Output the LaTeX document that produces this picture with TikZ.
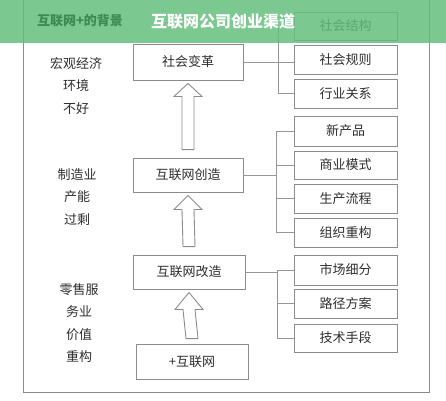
\documentclass[tikz,border=0pt]{standalone}
\usepackage{fontspec}
\newfontfamily\cjk{Noto Sans CJK SC}
\usetikzlibrary{calc}
\definecolor{boxgray}{RGB}{140,140,140}
\definecolor{linegray}{RGB}{150,150,150}
\definecolor{txt}{RGB}{45,45,45}
\definecolor{banner}{RGB}{100,190,125}
\definecolor{hdrgreen}{RGB}{62,138,84}
\begin{document}
\begin{tikzpicture}[x=1pt,y=-1pt,
  box/.style={draw=boxgray, line width=0.9pt, minimum width=110pt, minimum height=35pt, inner sep=0pt, font=\cjk\fontsize{13}{15}\selectfont, text=txt},
  rbox/.style={box, minimum width=103pt, minimum height=29pt},
  side/.style={font=\cjk\fontsize{13}{22.5}\selectfont, text=txt, align=center, inner sep=0pt},
  conn/.style={draw=linegray, line width=1pt},
  hollow/.style={draw=boxgray, fill=white, line width=0.9pt, line join=miter}]
\useasboundingbox (0,0) rectangle (446,400);
\draw[boxgray, line width=0.9pt] (23,-5) rectangle (429,392);

% left texts
\node[side] (l1) at (76,86) {宏观经济\\环境\\不好};
\node[side] (l2) at (77,197) {制造业\\产能\\过剩};
\node[side] (l3) at (79,323) {零售服\\务业\\价值\\重构};

% center boxes
\node[box, minimum height=36pt] (bian) at (188,62) {社会变革};
\node[box, minimum height=34pt] (chuang) at (188,175) {互联网创造};
\node[box, minimum width=112pt, minimum height=34pt] (gai) at (189,272) {互联网改造};
\node[box, minimum width=112pt, minimum height=35pt] (plus) at (192,361.5) {+互联网};

% right boxes
\node[rbox, minimum height=28pt] (s1) at (345.5,26) {社会结构};
\node[rbox] (s2) at (345.5,59.5) {社会规则};
\node[rbox] (s3) at (345.5,93.5) {行业关系};
\node[rbox, minimum height=30pt] (c1) at (345.5,131) {新产品};
\node[rbox, minimum height=28pt] (c2) at (345.5,165) {商业模式};
\node[rbox] (c3) at (345.5,198.5) {生产流程};
\node[rbox] (c4) at (345.5,232.5) {组织重构};
\node[rbox, minimum height=30pt] (g1) at (345.5,270) {市场细分};
\node[rbox] (g2) at (345.5,303.5) {路径方案};
\node[rbox, minimum height=28pt] (g3) at (345.5,338) {技术手段};

% brackets
\coordinate (bx1) at (278,0);
\coordinate (bx2) at (276,0);
\coordinate (bx3) at (277,0);
\draw[conn] (bian.east) -- (bian.east -| s2.west);
\draw[conn] (s1.west -| bx1) -- (s3.west -| bx1);
\foreach \n in {s1,s3} \draw[conn] (\n.west -| bx1) -- (\n.west);
\draw[conn] (chuang.east) -- (chuang.east -| bx2);
\draw[conn] (c1.west -| bx2) -- (c4.west -| bx2);
\foreach \n in {c1,c2,c3,c4} \draw[conn] (\n.west -| bx2) -- (\n.west);
\draw[conn] (gai.east) -- (gai.east -| bx3);
\draw[conn] (g1.west -| bx3) -- (g3.west -| bx3);
\foreach \n in {g1,g2,g3} \draw[conn] (\n.west -| bx3) -- (\n.west);

% hollow arrows
\newcommand\hollowup[4]{% from, to, bottom gap, head length
  \draw[hollow] ($(#1.north)+(-6,-#3)$) -- ($(#2.south)+(-6,3+#4)$) -- ($(#2.south)+(-14,3+#4)$)
    -- ($(#2.south)+(0,3)$) -- ($(#2.south)+(14,3+#4)$) -- ($(#2.south)+(6,3+#4)$)
    -- ($(#1.north)+(6,-#3)$) -- cycle;}
\hollowup{chuang}{bian}{8}{13}
\hollowup{gai}{chuang}{8}{14}
\hollowup{plus}{gai}{5}{17}

% banner
\fill[banner, fill opacity=0.85] (0,0) rectangle (446,43);
\node[font=\cjk\bfseries\fontsize{13}{15}\selectfont, text=hdrgreen] (hdr) at (80,21) {互联网+的背景};
\node[font=\cjk\bfseries\fontsize{16}{18}\selectfont, text=white] (title) at (223,21) {互联网公司创业渠道};
\end{tikzpicture}
\end{document}
